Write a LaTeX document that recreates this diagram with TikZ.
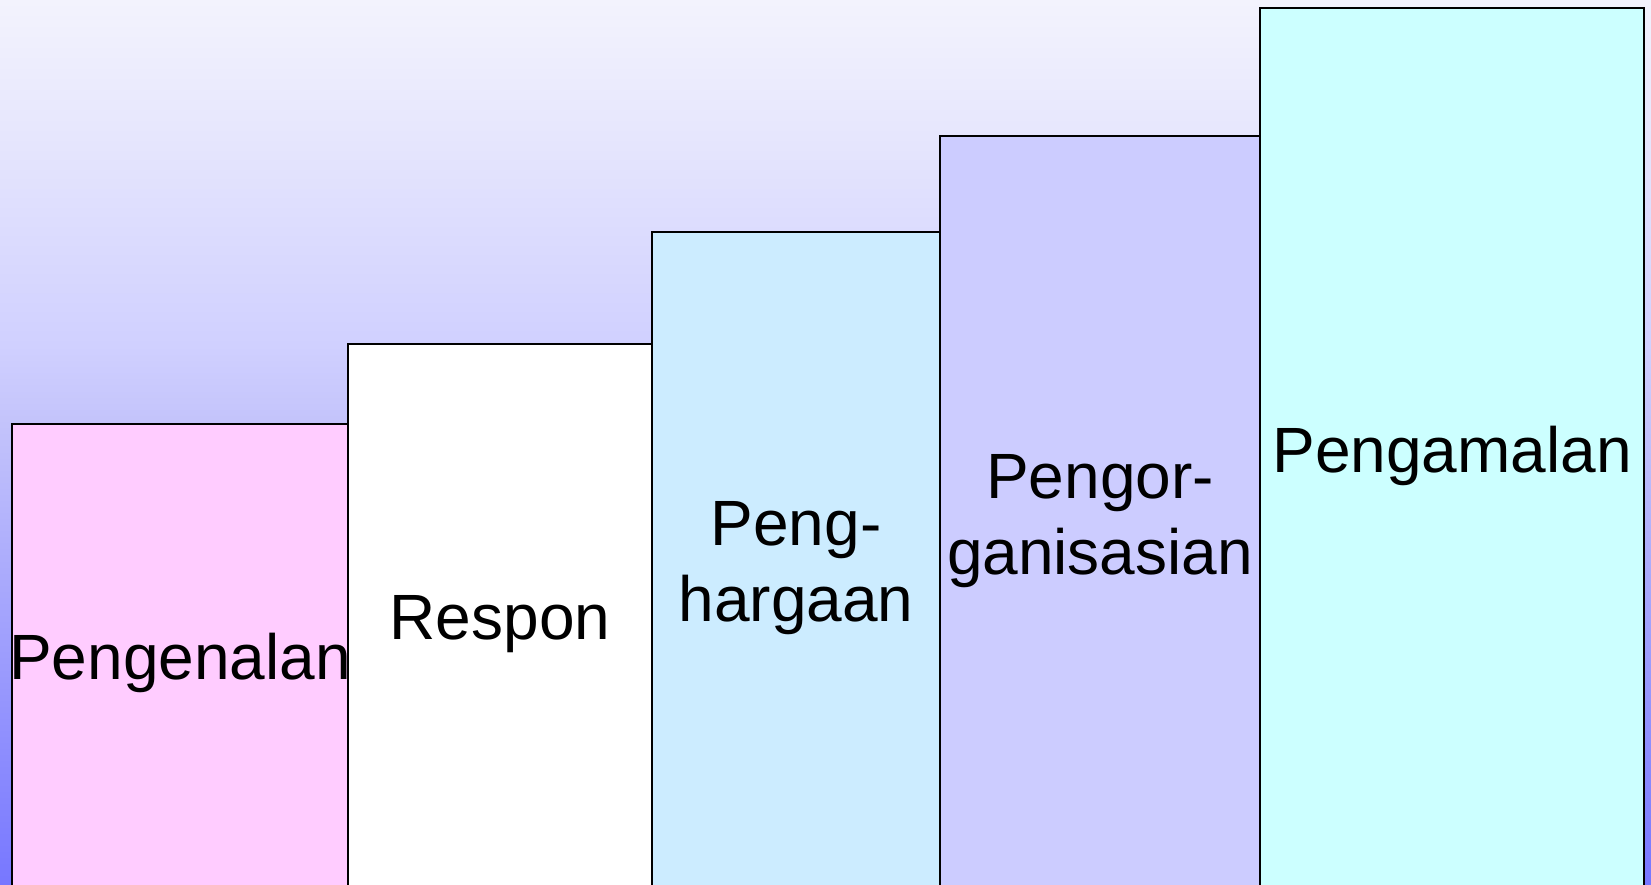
\documentclass[tikz,border=0pt]{standalone}
\usepackage{fontspec}
\setmainfont{Liberation Sans}
\definecolor{bgbot}{HTML}{7777FF}
\definecolor{bgA}{HTML}{C3C3FB}
\definecolor{bgB}{HTML}{D0D0FF}
\definecolor{bgC}{HTML}{E6E6FD}
\definecolor{bgtop}{HTML}{F3F3FD}
\definecolor{cpink}{HTML}{FFCCFF}
\definecolor{cwhite}{HTML}{FFFFFF}
\definecolor{csky}{HTML}{CCECFF}
\definecolor{clav}{HTML}{CCCCFF}
\definecolor{ccyan}{HTML}{CCFFFF}
\pgfdeclareverticalshading{bgshade}{100bp}{color(0bp)=(bgbot); color(25bp)=(bgbot); color(51bp)=(bgA); color(55.5bp)=(bgB); color(67.3bp)=(bgC); color(75bp)=(bgtop); color(100bp)=(bgtop)}
\tikzset{
  bar/.style={draw=black, line width=1.3pt},
  lbl/.style={font=\fontsize{64}{76}\selectfont, align=center, anchor=base, inner sep=0pt, text=black}
}
\begin{document}
\begin{tikzpicture}[x=1pt,y=-1pt]
\useasboundingbox (0,0) rectangle (1651,885);
\clip (0,0) rectangle (1651,885);
\shade[shading=bgshade] (0,0) rectangle (1651,885);
\draw[bar, fill=cpink]  (12,424) rectangle (348,900);
\draw[bar, fill=cwhite] (348,344) rectangle (652,900);
\draw[bar, fill=csky]   (652,232) rectangle (940,900);
\draw[bar, fill=clav]   (940,136) rectangle (1260,900);
\draw[bar, fill=ccyan]  (1260,8) rectangle (1644,900);
\node[lbl] (t1) at (180,679) {Pengenalan};
\node[lbl] (t2) at (500,639) {Respon};
\node[lbl] (t3) at (796,621) {Peng-\\hargaan};
\node[lbl] (t4) at (1100,574) {Pengor-\\ganisasian};
\node[lbl] (t5) at (1452,472) {Pengamalan};
\end{tikzpicture}
\end{document}
